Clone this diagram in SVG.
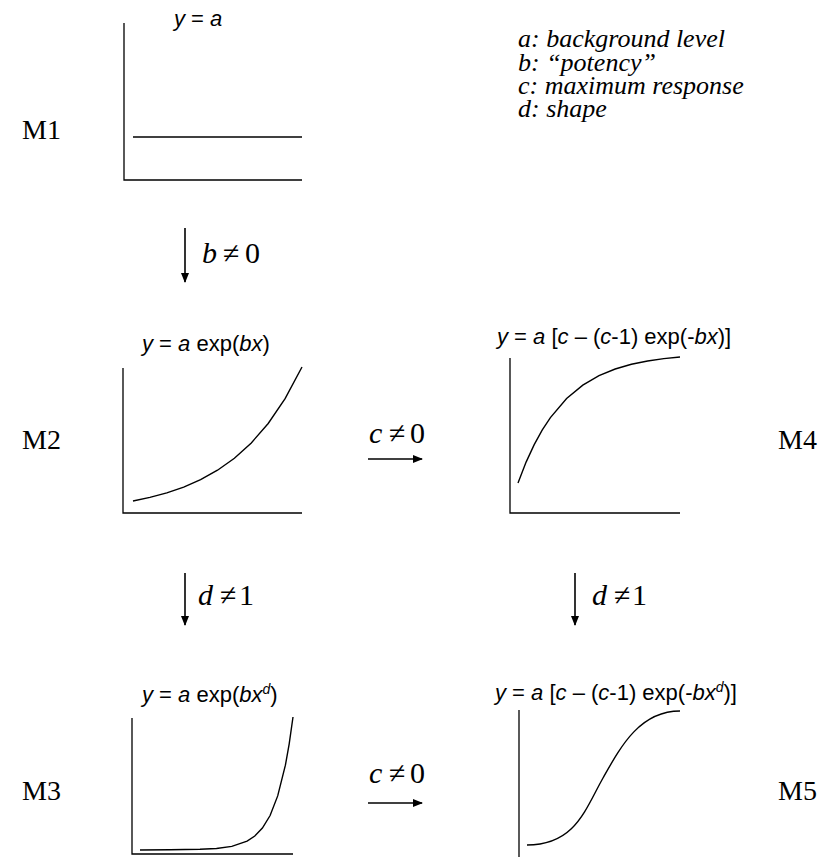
<svg xmlns="http://www.w3.org/2000/svg" width="832" height="857" viewBox="0 0 832 857">
<style>
.ax{fill:none;stroke:#000;stroke-width:1.3}
.cv{fill:none;stroke:#000;stroke-width:1.4}
.ar{fill:none;stroke:#000;stroke-width:1.6}
.ti{font-family:"Liberation Sans",Arial,sans-serif;font-size:22px;fill:#000}
.it{font-style:italic}
.ml{font-family:"Liberation Serif","Times New Roman",serif;font-size:28px;fill:#000}
.lg{font-family:"Liberation Serif","Times New Roman",serif;font-size:26px;font-style:italic;fill:#000}
.cl{font-family:"Liberation Serif","Times New Roman",serif;font-size:30px;fill:#000}
</style>
<defs>
<marker id="ah" markerWidth="10" markerHeight="10" refX="9" refY="5" orient="auto" markerUnits="userSpaceOnUse">
<path d="M0,1 L10,5 L0,9 Z" fill="#000"/>
</marker>
</defs>
<rect width="832" height="857" fill="#fff"/>

<g id="legend">
<text class="lg" x="518" y="47">a: background level</text>
<text class="lg" x="518" y="71">b: “potency”</text>
<text class="lg" x="518" y="94">c: maximum response</text>
<text class="lg" x="518" y="117">d: shape</text>
</g>

<g id="M1">
<text class="ml" x="22" y="139">M1</text>
<text class="ti" x="174" y="26"><tspan class="it">y</tspan> = <tspan class="it">a</tspan></text>
<path class="ax" d="M124,23 V180 H302"/>
<path class="cv" d="M133,137 H302"/>
</g>

<g id="M2">
<text class="ml" x="22" y="449">M2</text>
<text class="ti" x="142" y="351"><tspan class="it">y</tspan> = <tspan class="it">a</tspan> exp(<tspan class="it">bx</tspan>)</text>
<path class="ax" d="M123,368 V513 H302"/>
<polyline class="cv" points="133,501 149.9,497.4 166.8,492.9 183.7,487.1 200.6,479.7 217.5,470.2 234.4,458.2 251.3,442.9 268.2,423.5 285.1,398.7 302,367"/>
</g>

<g id="M4">
<text class="ml" x="778" y="449">M4</text>
<text class="ti" x="497" y="344"><tspan class="it">y</tspan> = <tspan class="it">a</tspan> [<tspan class="it">c</tspan> – (<tspan class="it">c</tspan>-1) exp(-<tspan class="it">bx</tspan>)]</text>
<path class="ax" d="M510,358 V513 H680"/>
<polyline class="cv" points="518,483 526.1,462.1 534.2,444.6 542.3,429.9 550.4,417.6 566.6,398.5 582.8,385.1 599,375.7 615.2,369 631.4,364.3 647.6,361 663.8,358.6 680,357"/>
</g>

<g id="M3">
<text class="ml" x="22" y="800">M3</text>
<text class="ti" x="142" y="702"><tspan class="it">y</tspan> = <tspan class="it">a</tspan> exp(<tspan class="it">bx</tspan><tspan class="it" font-size="14" dy="-8">d</tspan><tspan dy="8">)</tspan></text>
<path class="ax" d="M132,718 V854 H293"/>
<polyline class="cv" points="140,850 170,849.8 200,849.2 216.5,848.5 231.8,846.4 247.1,841.1 254.8,836 262.4,828 270.1,815.5 277.7,795.9 285.4,765.2 289.2,743.8 293,717"/>
</g>

<g id="M5">
<text class="ml" x="778" y="800">M5</text>
<text class="ti" x="495" y="700"><tspan class="it">y</tspan> = <tspan class="it">a</tspan> [<tspan class="it">c</tspan> – (<tspan class="it">c</tspan>-1) exp(-<tspan class="it">bx</tspan><tspan class="it" font-size="14" dy="-8">d</tspan><tspan dy="8">)]</tspan></text>
<path class="ax" d="M519,710 V857"/>
<path class="cv" d="M527,845 C575,845 585,810 603,778 S640,711 680,711"/>
</g>

<g id="connectors">
<line class="ar" x1="185" y1="228" x2="185" y2="282" marker-end="url(#ah)"/>
<text class="cl" y="263"><tspan class="it" x="202">b</tspan><tspan x="223">≠</tspan><tspan x="245">0</tspan></text>

<line class="ar" x1="185" y1="573" x2="185" y2="625" marker-end="url(#ah)"/>
<text class="cl" y="605"><tspan class="it" x="198">d</tspan><tspan x="220">≠</tspan><tspan x="239">1</tspan></text>

<line class="ar" x1="575" y1="573" x2="575" y2="625" marker-end="url(#ah)"/>
<text class="cl" y="605"><tspan class="it" x="592">d</tspan><tspan x="614">≠</tspan><tspan x="632">1</tspan></text>

<line class="ar" x1="368" y1="459" x2="422" y2="459" marker-end="url(#ah)"/>
<text class="cl" y="443"><tspan class="it" x="369">c</tspan><tspan x="389">≠</tspan><tspan x="410">0</tspan></text>

<line class="ar" x1="368" y1="803" x2="422" y2="803" marker-end="url(#ah)"/>
<text class="cl" y="783"><tspan class="it" x="369">c</tspan><tspan x="389">≠</tspan><tspan x="410">0</tspan></text>
</g>
</svg>
